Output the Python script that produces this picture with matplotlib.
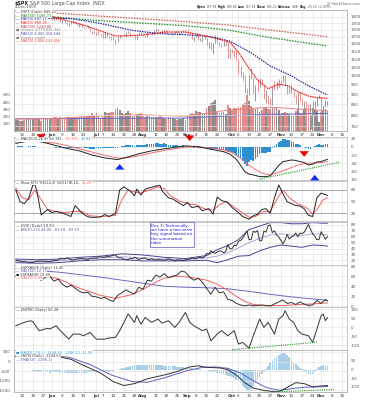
import matplotlib
matplotlib.use("Agg")
import matplotlib.pyplot as plt
from matplotlib.ticker import NullLocator
import pandas as pd

W, H = 367, 400

# trading calendar: x position = trading day number
holidays = pd.to_datetime(["2008-05-26", "2008-07-04", "2008-09-01", "2008-11-27", "2008-12-25"])
days = pd.bdate_range("2008-05-07", "2008-12-31")
days = days[~days.isin(holidays)]
day_pos = {d.strftime("%m-%d"): i for i, d in enumerate(days)}

tick_days = ["05-12", "05-19", "05-27", "06-02", "06-09", "06-16", "06-23", "07-01", "07-07",
             "07-14", "07-21", "07-28", "08-01", "08-11", "08-18", "08-25", "09-02", "09-08",
             "09-15", "09-22", "10-01", "10-06", "10-13", "10-20", "10-27", "11-03", "11-10",
             "11-17", "11-24", "12-01", "12-08", "12-15"]
tick_labels = ["12", "19", "27", "Jun", "9", "16", "23", "Jul", "7", "14", "21", "28", "Aug",
               "11", "18", "25", "Sep", "8", "15", "22", "Oct", "6", "13", "20", "27", "Nov",
               "10", "17", "24", "Dec", "8", "15"]
months = {"Jun", "Jul", "Aug", "Sep", "Oct", "Nov", "Dec"}
ticks = [day_pos[d] for d in tick_days]

# ---- $SPX daily bars (7 May - 4 Dec 2008)
close = [1392.57, 1397.68, 1388.28, 1403.58, 1403.04, 1408.66, 1423.57, 1425.35, 1426.63, 1413.40,
         1390.71, 1394.35, 1375.93, 1385.35, 1390.84, 1398.26, 1400.38,
         1385.67, 1377.65, 1377.20, 1404.05, 1360.68, 1361.76, 1358.44, 1335.49, 1339.87, 1360.03,
         1360.14, 1350.93, 1337.81, 1342.83, 1317.93, 1318.00, 1314.29, 1321.97, 1283.15, 1278.38, 1280.00,
         1284.91, 1261.52, 1262.90, 1252.31, 1273.70, 1244.69, 1253.39, 1239.49, 1228.30, 1214.91, 1245.36,
         1260.32, 1260.68, 1260.00, 1277.00, 1282.19, 1252.54, 1257.76, 1234.37, 1263.20, 1284.26, 1267.38,
         1260.31, 1249.01, 1284.88, 1289.19, 1266.07, 1296.32, 1305.32, 1289.59, 1285.83, 1292.93, 1298.20,
         1278.60, 1266.69, 1274.54, 1277.72, 1292.20, 1266.84, 1271.51, 1281.66, 1300.68, 1282.83,
         1277.58, 1274.98, 1236.83, 1242.31, 1267.79, 1224.51, 1232.04, 1249.05, 1251.70, 1192.70, 1213.60,
         1156.39, 1206.51, 1255.08, 1207.09, 1188.22, 1185.87, 1209.18, 1213.27, 1106.39, 1166.36,
         1161.06, 1114.28, 1099.23, 1056.89, 996.23, 984.94, 909.92, 899.22, 1003.35, 998.01, 907.84,
         946.43, 940.55, 985.40, 955.05, 896.78, 908.11, 876.77, 848.92, 940.51, 930.09, 954.09, 968.75,
         966.30, 1005.75, 952.77, 904.88, 930.99, 919.21, 898.95, 852.30, 911.29, 873.29, 850.75, 859.12,
         806.58, 752.44, 800.03, 851.81, 857.39, 887.68, 896.24,
         816.21, 848.81, 870.74, 845.22]
high = [1413, 1404, 1394, 1404, 1407, 1420, 1424, 1427, 1440, 1425, 1419, 1401, 1394, 1387, 1391, 1406, 1404,
        1401, 1396, 1386, 1405, 1404, 1371, 1366, 1361, 1353, 1362, 1370, 1367, 1351, 1348, 1343, 1323, 1323,
        1336, 1321, 1289, 1291,
        1285, 1292, 1272, 1273, 1274, 1277, 1254, 1253, 1254, 1234, 1247, 1262, 1263, 1267, 1280, 1291, 1283,
        1263, 1260, 1264, 1285, 1285,
        1270, 1262, 1285, 1292, 1280, 1297, 1313, 1304, 1294, 1300, 1300, 1304, 1279, 1276, 1279, 1294, 1293,
        1276, 1290, 1301, 1300,
        1303, 1281, 1275, 1244, 1275, 1274, 1241, 1250, 1255, 1240, 1214, 1213, 1207, 1265, 1255, 1214, 1197,
        1216, 1215, 1210, 1167,
        1166, 1160, 1153, 1098, 1057, 1021, 1005, 936, 1004, 1045, 995, 947, 984, 986, 985, 951, 922, 896, 882,
        941, 969, 970, 985,
        976, 1007, 1005, 948, 931, 951, 918, 897, 912, 912, 882, 866, 865, 804, 802, 868, 868, 888, 897,
        889, 849, 871, 869]
low = [1392, 1389, 1384, 1386, 1396, 1405, 1401, 1416, 1421, 1410, 1388, 1390, 1372, 1373, 1380, 1388, 1395,
       1375, 1370, 1373, 1377, 1359, 1350, 1350, 1334, 1331, 1340, 1351, 1350, 1333, 1322, 1317, 1313, 1309,
       1314, 1283, 1272, 1274,
       1260, 1261, 1255, 1238, 1240, 1244, 1237, 1226, 1225, 1200, 1215, 1241, 1251, 1255, 1255, 1276, 1252,
       1251, 1234, 1235, 1264, 1266,
       1254, 1247, 1249, 1280, 1263, 1261, 1292, 1288, 1276, 1279, 1286, 1276, 1261, 1262, 1263, 1276, 1264,
       1263, 1271, 1282, 1282,
       1273, 1267, 1236, 1217, 1250, 1224, 1219, 1212, 1233, 1192, 1169, 1156, 1133, 1207, 1205, 1185, 1179,
       1187, 1187, 1106, 1107,
       1141, 1111, 1092, 1008, 995, 969, 909, 839, 899, 984, 903, 866, 918, 941, 951, 876, 858, 852, 847, 846,
       922, 930, 940,
       955, 966, 943, 900, 907, 906, 885, 852, 818, 866, 847, 826, 804, 747, 741, 801, 834, 841, 884,
       815, 811, 837, 844]
volume = [3.3, 3.0, 2.8, 2.9, 3.1, 3.3, 3.4, 3.3, 3.2, 3.5, 3.6, 3.3, 2.9, 3.2, 3.2, 3.3, 3.6,
          3.4, 3.8, 3.9, 3.6, 3.9, 3.6, 3.7, 4.0, 3.8, 3.6, 3.3, 3.8, 3.8, 3.8, 4.5, 3.9, 3.9, 4.1, 4.5, 4.9, 4.5,
          5.0, 4.5, 3.7, 4.0, 5.2, 4.9, 5.0, 5.3, 5.2, 6.2, 6.4, 5.9, 5.0, 4.7, 5.0, 5.5, 5.1, 4.3, 4.4, 4.7, 4.8, 4.9,
          4.2, 3.8, 4.1, 4.2, 3.9, 3.8, 4.0, 3.8, 4.2, 4.0, 3.6, 3.2, 3.8, 3.6, 3.5, 3.4, 3.0, 3.2, 3.4, 3.6, 3.1,
          4.4, 4.6, 5.0, 4.6, 5.5, 5.2, 5.2, 5.0, 4.6, 6.5, 6.9, 7.8, 8.1, 8.6, 5.4, 5.1, 5.2, 5.2, 4.8, 7.3, 6.4,
          5.9, 6.5, 6.3, 6.6, 6.8, 7.4, 7.9, 9.9, 8.4, 6.9, 6.4, 6.0, 6.5, 5.2, 5.8, 6.3, 6.3, 6.2, 6.0, 6.4, 6.3,
          6.3, 5.9,
          4.6, 4.9, 5.3, 5.0, 4.6, 4.5, 4.3, 5.5, 6.1, 4.9, 5.0, 6.2, 6.3, 7.2, 7.6, 6.3, 6.0, 5.5, 2.6,
          5.4, 5.9, 6.0, 5.5]

# moving averages (at a few days)
ma200_x = [0, 20, 40, 60, 80, 100, 120, 147]
ma200 = [1440, 1428, 1404, 1383, 1361, 1335, 1297, 1249]
ma150_x = [0, 20, 40, 60, 80, 100, 120, 147]
ma150 = [1408, 1394, 1368, 1349, 1330, 1298, 1243, 1185]
ma50_x = [0, 14, 26, 39, 55, 67, 80, 92, 101, 111, 120, 130, 138, 147]
ma50 = [1375, 1388, 1385, 1350, 1295, 1272, 1264, 1250, 1218, 1140, 1058, 1000, 945, 897]
ma20_x = [0, 10, 17, 24, 33, 40, 47, 52, 60, 70, 80, 88, 95, 101, 105, 109, 114, 119, 124, 128, 133, 138, 142, 147]
ma20 = [1392, 1405, 1402, 1370, 1330, 1290, 1255, 1255, 1262, 1283, 1283, 1260, 1235, 1210, 1144, 1063, 977,
        930, 953, 947, 914, 892, 884, 880]
vol_ma50_x = [0, 40, 80, 100, 120, 147]
vol_ma50 = [3.4, 3.5, 3.6, 4.2, 4.6, 4.9]
vol_ma20_x = [0, 20, 40, 60, 80, 100, 120, 147]
vol_ma20 = [3.3, 3.5, 4.2, 4.5, 4.1, 5.8, 6.6, 5.6]

# ---- MACD(12,26,9)
macd_x = [0, 6, 12, 18, 24, 30, 36, 42, 48, 52, 58, 64, 70, 76, 80, 86, 90, 94, 98, 101, 104, 106, 108,
          110, 112, 115, 118, 120, 122, 124, 126, 128, 130, 132, 134, 136, 138, 140, 142, 144, 146, 147]
macd = [8, 14, 12, 4, -4, -10, -20, -27, -31, -26, -17, -10, -5, -1, 2, 0, -4, -8, -12, -18, -30, -45, -60,
        -66, -68, -72, -72, -70, -58, -45, -36, -34, -32, -33, -36, -38, -44, -42, -37, -36, -32, -31]
signal_x = [0, 10, 18, 24, 30, 36, 42, 48, 52, 58, 64, 70, 76, 80, 86, 92, 98, 102, 106, 110, 116, 120,
            124, 128, 132, 136, 140, 144, 147]
signal = [12, 13, 9, 3, -5, -13, -21, -27, -27, -22, -15, -9, -4, -1, 0, -3, -8, -14, -28, -45, -64, -68,
          -62, -54, -46, -41, -39, -38, -36]
macd_hist = [0.5, 0.8, 1.0, 0.6, 0.3, 0.5, 1.0, 1.3, 1.5, 1.0, 0.2, -0.3, -0.8,
             -1.0, -1.2, -1.0, -0.8, -1.2, -1.8, -2.0, -1.0, -2.0, -2.5, -2.8, -3.3, -3.5, -2.8, -2.4, -2.6,
             -3.0, -2.8, -3.5, -3.6, -3.8, -3.2, -4.5, -5.0, -4.6, -4.0, -4.5, -4.0, -4.0, -3.0, -3.4, -3.0,
             -3.0, -3.2, -3.6, -2.0, -0.5, 0.8, 1.8, 3.0, 4.0, 3.2, 3.2, 2.4, 3.5, 4.8, 5.0, 5.0, 4.6, 5.8,
             6.6, 6.0, 7.0, 8.0, 7.8, 7.5, 7.6, 7.8, 6.5, 5.2, 4.8, 4.4, 4.6, 3.2, 2.6, 2.6, 3.0, 2.0,
             1.2, 0.5, -1.5, -2.0, -1.0, -2.6, -3.2, -2.8, -2.4, -5.5, -6.5, -9.0, -8.0, -4.5, -6.0, -7.5,
             -8.5, -7.5, -7.0, -13.0, -12.0, -13.0, -16.0, -19.0, -24.0, -30.0, -35.0, -42.0, -46.0, -38.0,
             -32.0, -34.0, -29.0, -25.0, -18.0, -15.0, -16.0, -14.0, -13.0, -12.0, -4.0, 2.0, 7.0, 11.0, 14.0,
             17.5, 18.0, 16.5, 15.0, 13.0, 10.5, 6.5, 6.0, 3.5, 0.5, -1.0, -3.5, -6.0, -5.0, -1.5, 1.5, 4.5,
             6.0, 3.0, 4.0, 6.0, 5.5]
sell_arrows_x = [12, 82, 136]
sell_arrows = [10, 7, -31]
buy_arrows_x = [49, 122, 141]
buy_arrows = [-35, -76, -61]
macd_trend_x = [115, 153]
macd_trend = [-78, -37]

# ---- Slow STO
sto_k_x = [0, 2, 4, 6, 8, 9, 10, 12, 15, 17, 19, 21, 23, 26, 28, 31, 33, 35, 38, 40, 42, 44, 47, 49, 51, 54,
           56, 57, 59, 61, 64, 66, 68, 69, 72, 74, 76, 79, 81, 83, 86, 88, 91, 93, 95, 97, 100, 102, 105, 107,
           110, 112, 114, 116, 118, 120, 122, 124, 126, 128, 130, 132, 134, 136, 138, 140, 142, 144, 145, 147]
sto_k = [80, 50, 45, 58, 92, 94, 75, 16, 30, 22, 25, 22, 19, 12, 40, 22, 14, 10, 10, 11, 17, 12, 20, 80, 88,
         77, 65, 82, 67, 82, 87, 90, 92, 78, 60, 57, 50, 40, 48, 35, 38, 27, 32, 18, 62, 53, 48, 35, 22, 12,
         5, 14, 18, 30, 32, 20, 60, 93, 70, 50, 45, 40, 39, 32, 15, 12, 60, 72, 70, 66]
sto_d_x = [0, 3, 6, 9, 12, 15, 19, 23, 27, 31, 35, 40, 44, 47, 50, 53, 56, 59, 63, 67, 70, 73, 77, 81, 85,
           89, 93, 96, 99, 102, 106, 110, 113, 117, 120, 123, 126, 129, 133, 137, 140, 142, 145, 147]
sto_d = [85, 60, 55, 80, 55, 30, 25, 22, 25, 25, 14, 12, 13, 15, 55, 80, 75, 72, 80, 88, 83, 65, 52, 45, 42,
         32, 28, 42, 50, 40, 25, 10, 12, 25, 25, 55, 80, 60, 44, 35, 18, 30, 55, 60]

# ---- $VIX with BB(20,2)
vix = [20.4, 19.0, 18.9, 17.6, 17.8, 17.2, 16.3, 16.5, 16.0, 17.6, 18.6, 18.2, 19.0, 18.1, 18.6, 17.9, 17.8,
       18.6, 20.0, 19.7, 20.4, 23.6, 22.8, 22.3, 24.0, 23.1, 20.8, 20.6, 21.0, 22.6, 22.2, 23.5, 22.0, 22.4,
       21.0, 23.5, 23.4, 23.9,
       23.4, 26.0, 25.8, 25.3, 25.1, 27.0, 26.5, 27.5, 28.5, 29.3, 25.3, 24.0, 24.1, 21.6, 21.8, 21.2, 23.4,
       22.4, 25.2, 23.4, 21.4, 22.9,
       23.2, 24.1, 21.6, 21.1, 22.5, 20.7, 20.6, 21.2, 20.7, 20.9, 20.0, 21.3, 22.6, 21.3, 20.1, 18.8, 20.3,
       20.6, 19.8, 19.4, 20.7,
       21.9, 21.9, 24.0, 23.1, 22.6, 25.5, 24.8, 24.4, 25.7, 31.7, 30.3, 36.2, 33.1, 32.1, 33.8, 35.7, 35.7,
       32.8, 34.7, 46.7, 39.4,
       39.8, 45.3, 45.1, 52.1, 53.7, 57.5, 63.9, 69.9, 55.0, 55.1, 69.3, 67.6, 70.3, 53.0, 53.1, 69.6, 67.8,
       79.1, 80.1, 67.0, 70.0, 62.9, 59.9,
       53.7, 47.7, 54.6, 63.7, 56.1, 60.0, 61.2, 66.5, 59.8, 66.3, 65.2, 67.6, 74.3, 80.9, 72.7, 64.7, 60.9,
       54.9, 55.3,
       68.5, 62.8, 55.7, 59.9]
bb_x = [0, 10, 20, 30, 40, 50, 60, 70, 80, 90, 95, 100, 105, 110, 115, 120, 125, 130, 135, 140, 145, 147]
bb_upper = [22, 21, 22, 25, 27, 31, 29, 25, 23, 28, 38, 45, 55, 72, 78, 84, 84, 82, 82, 84, 83, 83]
bb_mid = [19, 18, 19, 22, 24, 26, 24, 22, 21, 24, 27, 33, 41, 50, 57, 63, 65, 63, 62, 65, 64, 63]
bb_lower = [16, 15, 16, 19, 21, 21, 19, 19, 19, 20, 16, 21, 27, 28, 36, 42, 46, 44, 42, 46, 45, 44]

# ---- $SPXA50R (% of S&P stocks above 50-day MA)
a50_x = list(range(0, 147, 2)) + [147]
a50 = [60, 57, 63, 66, 62, 55, 52, 58, 60, 50, 54, 44, 38, 42, 36, 30, 27, 28, 20, 19, 16, 18, 13, 10, 22,
       27, 33, 28, 25, 38, 34, 52, 50, 62, 58, 65, 57, 60, 62, 70, 68, 58, 52, 56, 48, 36, 24, 38, 27, 29,
       14, 12, 6, 3, 1.5, 3, 1.5, 2, 3, 2, 1, 5, 9, 13, 6, 8, 4, 9, 5, 2, 3, 12, 6, 14, 11]
a50_ma20_x = [0, 10, 20, 30, 40, 47, 55, 60, 65, 70, 76, 82, 90, 95, 100, 104, 108, 112, 118, 126, 134, 140, 147]
a50_ma20 = [68, 64, 55, 36, 22, 16, 24, 34, 46, 56, 60, 58, 52, 44, 32, 20, 10, 4, 1.5, 2, 4, 5, 7]
a50_ma150_x = [0, 20, 40, 60, 70, 80, 90, 100, 110, 120, 130, 140, 147]
a50_ma150 = [74, 68, 58, 46, 40, 38, 37, 35, 30, 24, 19, 15, 12]

# ---- $NYMO
nymo_x = [0, 4, 7, 8, 11, 15, 16, 19, 21, 25, 27, 30, 32, 35, 38, 42, 43, 47, 49, 51, 53, 56, 57, 59, 61,
          64, 67, 69, 72, 75, 77, 80, 82, 84, 88, 90, 92, 95, 97, 100, 103, 105, 107, 110, 112, 115, 117,
          119, 122, 124, 126, 127, 129, 131, 133, 135, 138, 140, 142, 144, 145, 146, 147]
nymo = [9, 28, 37, 32, -18, -5, -9, 9, -18, -65, -37, -37, -46, -28, -65, -65, -60, -55, -18, 28, 74, 28, 65,
        18, 55, 28, 46, 24, 37, 0, 28, 83, 28, 9, -18, -9, -74, -37, -18, -46, -18, -92, -83, -115, -46, 46,
        0, 28, -37, 46, 65, 92, 46, 28, -18, -37, -46, -83, -9, 65, 74, 37, 55]
nymo_trend_x = [102, 142]
nymo_trend = [-123, -82]

# ---- $NYSI with MACD histogram
nysi_x = [0, 10, 20, 26, 32, 40, 46, 51, 56, 62, 70, 76, 82, 86, 90, 96, 100, 104, 108, 112, 116, 120, 124,
          128, 132, 136, 140, 144, 147]
nysi = [270, 270, 260, 120, -200, -600, -1050, -1250, -1150, -900, -700, -520, -280, -220, -300, -330, -420,
        -700, -1100, -1380, -1480, -1550, -1580, -1350, -1100, -1150, -1320, -1270, -1250]
nysi_ma_x = [0, 15, 25, 35, 45, 55, 62, 70, 80, 88, 94, 100, 106, 112, 118, 124, 130, 136, 142, 147]
nysi_ma = [290, 290, 230, -150, -700, -1050, -1080, -850, -500, -300, -280, -350, -600, -1000, -1350, -1500,
           -1420, -1340, -1320, -1300]
nysi_hist = [-3, -3, -2, -2, -3, -2, -2, -1,
             -6, -10, -12, -14, -15, -16, -17, -16, -18, -17, -16, -15, -17,
             -18, -19, -20, -20, -18, -19, -20, -21, -19, -18, -20, -19, -18, -17, -15, -16, -14, -12, -13,
             -11, -10, -12, -10, -8, -9,
             -6, -4, -2, 2,
             6, 10, 14, 17, 20, 22, 24, 25, 26, 27, 27, 28, 28, 27, 27, 26, 26, 25, 24, 24, 23, 22, 21, 20,
             19, 18, 17, 16, 15, 14, 12,
             10, 8, 6, 4, 3, 2, 1, -1, -3, -5,
             -8, -12, -14, -15, -18, -20, -24, -26, -30, -35, -40, -45, -50,
             -58, -68, -80, -92, -105, -118, -122, -110, -95, -80, -62,
             -45, -28, -12, 5, 20, 35, 50,
             62, 72, 82, 90, 94, 92, 85, 72, 58,
             45, 32, 20, 10, 2, -8, -16, -24, -30, -26, -12,
             4, 14, 20, 24, 22, 21]
nysi_trend_x = [114, 150]
nysi_trend = [-1620, -1460]

note = "Dec 3: Technically,\nwe have a two-term\nbuy signal based on\nthe summation\nindex"

# ------------------------------------------------------------------
fig = plt.figure(figsize=(W / 100, H / 100), dpi=100)
renderer = fig.canvas.get_renderer()
X0, X1 = -0.85, 156.2
n = len(close)
xs = list(range(n))


def rect(top, bottom):
    return [14 / W, 1 - bottom / H, 333 / W, (bottom - top) / H]


def panel(top, bottom, ylim, yticks, ylabels=None, side="right", log=False, over=False):
    ax = fig.add_axes(rect(top, bottom))
    if over:
        ax.patch.set_alpha(0)
    if log:
        ax.set_yscale("log")
        ax.yaxis.set_minor_locator(NullLocator())
    ax.set_xlim(X0, X1)
    ax.set_ylim(*ylim)
    ax.set_xticks(ticks)
    ax.set_xticklabels([])
    ax.set_yticks(yticks)
    ax.set_yticklabels(ylabels if ylabels is not None else [str(v) for v in yticks])
    if side == "right":
        ax.yaxis.tick_right()
    else:
        ax.yaxis.tick_left()
    ax.tick_params(length=0, labelsize=3, labelcolor="#555555", pad=2.5)
    if not over:
        ax.grid(True, color="#e4e4e4", lw=0.5)
    ax.set_axisbelow(True)
    for sp in ax.spines.values():
        sp.set_color("#b4b4b4")
        sp.set_linewidth(0.5)
    return ax


def date_labels(ax):
    ax.set_xticklabels(tick_labels)
    ax.tick_params(axis="x", labelsize=3, pad=1.5, labelcolor="#333333")
    for t in ax.get_xticklabels():
        if t.get_text() in months:
            t.set_fontweight("bold")


def ftext(px, py, s, size=2.7, color="#333333", weight="normal", bg=True, **kw):
    box = dict(fc="white", ec="none", pad=0.25) if bg else None
    return fig.text(px / W, 1 - py / H, s, size=size, color=color, weight=weight,
                    va="center", ha="left", bbox=box, **kw)


def row(px, py, parts, size=2.7, bg=True, gap=1.0):
    for s, color, weight in parts:
        t = ftext(px, py, s, size=size, color=color, weight=weight, bg=bg)
        px += t.get_window_extent(renderer).width + gap


# header
row(15, 3.2, [("\\$SPX", "#222222", "bold"), ("S&P 500 Large Cap Index  INDX", "#555555", "normal")], size=3.4, bg=False)
ftext(15, 7.2, "4-Dec-2008", size=2.7, color="#555555", bg=False)
ftext(327, 3.0, "@ StockCharts.com", size=2.4, color="#666666", bg=False)
row(197, 7.4, [("Open", "#222222", "bold"), ("877.84", "#555555", "normal"),
               ("High", "#222222", "bold"), ("880.84", "#555555", "normal"),
               ("Low", "#222222", "bold"), ("817.84", "#555555", "normal"),
               ("Close", "#222222", "bold"), ("845.22", "#555555", "normal"),
               ("Volume", "#222222", "bold"), ("4.8B", "#555555", "normal"),
               ("Chg", "#222222", "bold"), ("-25.52 (-2.93%)", "#555555", "normal")], size=2.2, bg=False, gap=0.9)

# ---- price + volume
ax_v = panel(10, 131, (0, 33.6), [2, 4, 6, 8, 10], ["100", "200", "300", "400", "500"], side="left")
ax_v.grid(False, axis="y")
prev = [close[0]] + close[:-1]
up = [c >= p for c, p in zip(close, prev)]
ax_v.bar(xs, volume, width=0.8, color=["#8c8c8c" if u else "#e08a8a" for u in up], lw=0)
ax_v.plot(vol_ma50_x, vol_ma50, color="#6a6acc", lw=0.7)
ax_v.plot(vol_ma20_x, vol_ma20, color="#f08080", lw=0.7)

p_ticks = [750, 800, 850, 900, 950, 1000, 1050, 1100, 1150, 1200, 1250, 1300, 1350, 1400]
ax_p = panel(10, 131, (731, 1454), p_ticks, log=True, over=True)
ax_p.grid(True, axis="y", color="#e4e4e4", lw=0.5)
ax_p.vlines(xs, low, high, colors=["#9a9a9a" if u else "#ef8f8f" for u in up], lw=0.7)
ax_p.plot(ma200_x, ma200, color="#c85a50", lw=0.9, ls=(0, (1.2, 1)))
ax_p.plot(ma150_x, ma150, color="#1a8a1a", lw=0.9, ls=(0, (1.2, 1)))
ax_p.plot(ma50_x, ma50, color="#2a2aa0", lw=0.9, ls=(0, (1.2, 0.8)))
ax_p.plot(ma20_x, ma20, color="#ee1111", lw=0.8, ls=(0, (1.5, 0.6)))
date_labels(ax_p)

leg = [("— \\$SPX (Daily) 845.22", "#333333"), ("— MA(150) 1185.71", "#1a7a1a"),
       ("— MA(50) 897.12", "#2a2aa0"), ("— MA(20) 880.36", "#ee1111"),
       ("— MA(200) 1249.88", "#b04040"), ("■ Volume 4,779,641,344", "#777777"),
       ("— MA(50) 4,902,316,544", "#4a4ac0"), ("■ Volume undef", "#777777"),
       ("— MA(20) 5,906,233,856", "#ee4444")]
for k, (s, c) in enumerate(leg):
    ftext(16, 12.0 + 3.65 * k, s, size=2.5, color=c)

# ---- MACD
ax_m = panel(137, 180, (-80.2, 23.4), [20, 0, -20, -40, -60, -80])
ax_m.bar(xs, macd_hist, width=0.8, color="#2f8fcf", lw=0)
ax_m.plot(signal_x, signal, color="#f07070", lw=0.7)
ax_m.plot(macd_x, macd, color="#222222", lw=0.7)
ax_m.plot(macd_trend_x, macd_trend, color="#2a9a2a", lw=0.8, ls=(0, (1, 1)))
arrow = dict(arrowstyle="simple,head_length=0.45,head_width=0.75,tail_width=0.38", lw=0, mutation_scale=9)
for i, v in zip(sell_arrows_x, sell_arrows):
    ax_m.annotate("", xy=(i, v), xytext=(i, v + 14), annotation_clip=False,
                  arrowprops=dict(arrow, fc="#ee0000", ec="#ee0000"))
for i, v in zip(buy_arrows_x, buy_arrows):
    ax_m.annotate("", xy=(i, v), xytext=(i, v - 14), annotation_clip=False,
                  arrowprops=dict(arrow, fc="#1030ee", ec="#1030ee"))
row(16, 139.4, [("— MACD(12,26,9)", "#333333", "normal"), ("-30.741,", "#333333", "normal"),
                ("-35.335,", "#f06060", "normal"), ("4.594", "#2f8fcf", "normal")], size=2.6)

# ---- Slow STO
ax_s = panel(181, 221, (0.5, 103), [80, 50, 20])
ax_s.grid(False, axis="y")
ax_s.axhline(80, color="#9a9a9a", lw=0.6)
ax_s.axhline(20, color="#9a9a9a", lw=0.6)
ax_s.axhline(50, color="#bdbdbd", lw=0.5, ls=(0, (3, 2)))
ax_s.plot(sto_d_x, sto_d, color="#f06060", lw=0.7)
ax_s.plot(sto_k_x, sto_k, color="#222222", lw=0.7)
row(16, 183.0, [("— Slow STO %K(14,3) %D(3)", "#333333", "normal"), ("66.15,", "#333333", "normal"),
                ("56.20", "#f06060", "normal")], size=2.6)

# ---- VIX
ax_x = panel(222, 265, (12, 85), [80, 70, 60, 50, 40, 30, 20])
ax_x.plot(bb_x, bb_mid, color="#a8a8dd", lw=0.7)
ax_x.plot(bb_x, bb_upper, color="#45459a", lw=0.7)
ax_x.plot(bb_x, bb_lower, color="#45459a", lw=0.7)
ax_x.plot(xs, vix, color="#333333", lw=0.7)
ftext(16, 226.0, "— \\$VIX (Daily) 59.93", size=2.6, color="#333333")
ftext(16, 229.7, "— BB(20,2.0) 44.06 - 63.58 - 83.10", size=2.6, color="#5555aa")
fig.text(151 / W, 1 - 223.5 / H, note, size=3.0, color="#1a1ad0", va="top", ha="left", linespacing=1.15,
         bbox=dict(boxstyle="square,pad=0.35", fc="white", ec="#7070c0", lw=0.6))

# ---- $SPXA50R
ax_a = panel(265, 307, (-1, 82), [80, 60, 40, 20, 0])
ax_a.plot(a50_ma150_x, a50_ma150, color="#6a6ac0", lw=0.7)
ax_a.plot(a50_ma20_x, a50_ma20, color="#f06060", lw=0.7)
ax_a.plot(a50_x, a50, color="#333333", lw=0.7)
for k, (s, c) in enumerate([("— \\$SPXA50R (Daily) 13.40", "#333333"), ("— MA(150) 12.19", "#5555aa"),
                            ("■ \\$SPXA50R 13.40", "#333333"), ("— MA(20) 6.80", "#f06060")]):
    ftext(16, 267.6 + 3.5 * k, s, size=2.5, color=c)

# ---- $NYMO
ax_n = panel(307, 350, (-125, 113), [100, 50, 0, -50, -100])
ax_n.plot(nymo_x, nymo, color="#333333", lw=0.7)
ax_n.plot(nymo_trend_x, nymo_trend, color="#2a9a2a", lw=0.8, ls=(0, (1, 1)))
ftext(16, 310.5, "— \\$NYMO (Daily) 55.28", size=2.6, color="#333333")

# ---- $NYSI
ax_h = panel(350, 392, (-129, 112), [50, 0, -50, -100])
ax_h.grid(False, axis="y")
ax_h.bar(xs, nysi_hist, width=0.8, color="#a9cfe8", lw=0)
ax_y = panel(350, 392, (-1588, 604), [500, 0, -500, -1000, -1500], side="left", over=True)
ax_y.grid(True, axis="y", color="#e4e4e4", lw=0.5)
ax_y.plot(nysi_ma_x, nysi_ma, color="#6060c0", lw=0.7)
ax_y.plot(nysi_x, nysi, color="#333333", lw=0.7)
ax_y.plot(nysi_trend_x, nysi_trend, color="#2a9a2a", lw=0.8, ls=(0, (1, 1)), clip_on=False)
date_labels(ax_y)
for k, (s, c) in enumerate([("■ MACD(1,10,1) -1244.53, -1286.11, 41.58", "#2f8fcf"),
                            ("— \\$NYSI (Daily) -1244.53", "#333333"), ("— EMA(10) -1286.11", "#5555aa")]):
    ftext(16, 352.8 + 3.5 * k, s, size=2.5, color=c)

fig.savefig("out.png", dpi=100)
